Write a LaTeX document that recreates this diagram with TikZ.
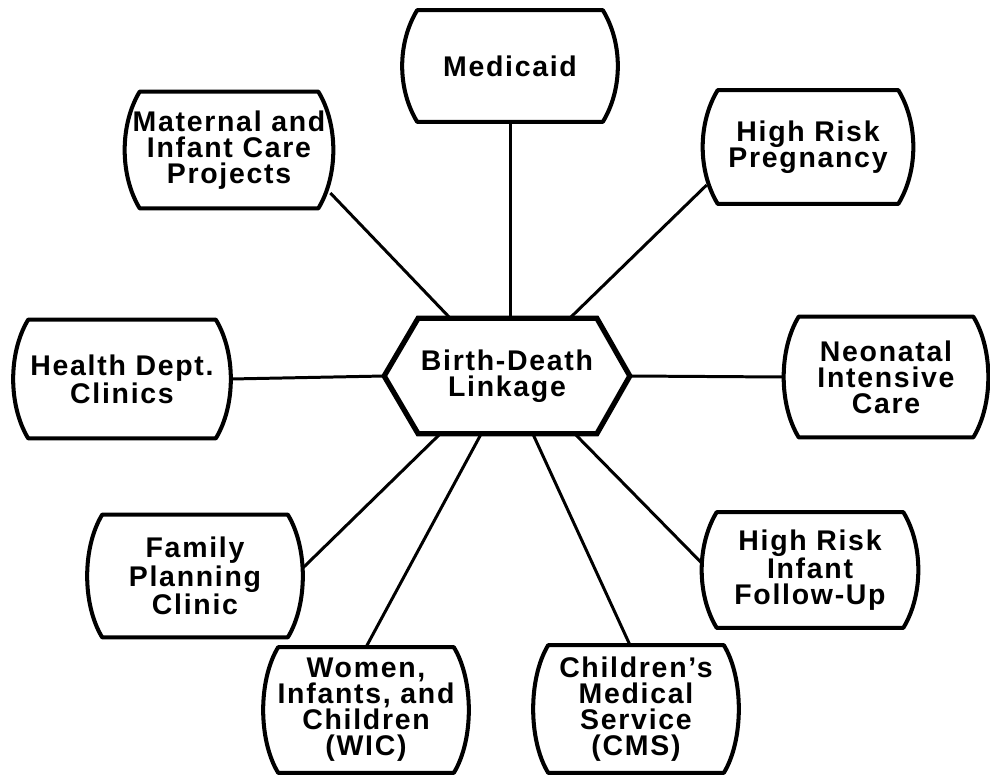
\documentclass[tikz,border=0pt]{standalone}
\usepackage{fontspec}
\setmainfont{Liberation Sans}[LetterSpace=6]
\usetikzlibrary{calc}
\tikzset{
  agency/.style={minimum width=4.2cm,minimum height=2.3cm,inner sep=0pt,align=center,font=\fontsize{16.2}{14.8}\selectfont\bfseries},
  boxline/.style={line width=2.3pt,line join=round},
  hubline/.style={line width=3pt,line join=miter},
  spoke/.style={line width=1.7pt}
}

\begin{document}
\begin{tikzpicture}[x=0.02cm,y=-0.02cm]
    \useasboundingbox (0,0) rectangle (990,774);

    \node[agency,minimum width=4.9cm,minimum height=2.3cm] (hub) at (507,376) {Birth-Death\\Linkage};

    \node[agency,minimum width=4.30cm,minimum height=2.22cm] (med) at (510,66) {Medicaid};
    \node[agency,minimum width=4.16cm,minimum height=2.32cm] (mat) at (229,150) {Maternal and\\Infant Care\\Projects};
    \node[agency,minimum width=4.20cm,minimum height=2.26cm] (hrp) at (808,147) {High Risk\\Pregnancy};
    \node[agency,minimum width=4.34cm,minimum height=2.36cm] (hdc) at (122,379) {Health Dept.\\Clinics};
    \node[agency,minimum width=4.08cm,minimum height=2.40cm] (nic) at (886,377) {Neonatal\\Intensive\\Care};
    \node[agency,minimum width=4.30cm,minimum height=2.44cm] (fpc) at (195,576) {Family\\Planning\\Clinic};
    \node[agency,minimum width=4.32cm,minimum height=2.30cm] (hri) at (810,570) {High Risk\\Infant\\Follow-Up};
    \node[agency,minimum width=4.10cm,minimum height=2.50cm] (wic) at (366,710) {Women,\\Infants, and\\Children\\(WIC)};
    \node[agency,minimum width=4.10cm,minimum height=2.54cm] (cms) at (636,709) {Children's\\Medical\\Service\\(CMS)};

    % outlines
    \draw[hubline] (hub.west) -- ($(hub.north west)+(34,0)$) -- ($(hub.north east)+(-33,0)$)
      -- (hub.east) -- ($(hub.south east)+(-33,0)$) -- ($(hub.south west)+(34,0)$) -- cycle;
    \foreach \n in {med,mat,hrp,hdc,nic,fpc,hri,wic,cms}
      \draw[boxline] ($(\n.north west)+(15,0)$) -- ($(\n.north east)+(-15,0)$)
        .. controls ($(\n.north east)+(5,33)$) and ($(\n.south east)+(5,-33)$) .. ($(\n.south east)+(-15,0)$)
        -- ($(\n.south west)+(15,0)$)
        .. controls ($(\n.south west)+(-5,-33)$) and ($(\n.north west)+(-5,33)$) .. cycle;

    % spokes
    \draw[spoke] (med.south) -- (med.south |- hub.north);
    \draw[spoke] ($(mat.east)+(-3,43)$) -- ($(hub.north west)+(66,0)$);
    \draw[spoke] ($(hrp.west)+(4,38)$) -- ($(hub.north east)+(-60,0)$);
    \draw[spoke] (hdc.east) -- (hub.west);
    \draw[spoke] (nic.west) -- (hub.east);
    \draw[spoke] ($(fpc.east)+(0,-8)$) -- ($(hub.south west)+(56,0)$);
    \draw[spoke] (wic.north) -- ($(hub.south west)+(97,0)$);
    \draw[spoke] ($(cms.north)+(-6,0)$) -- ($(hub.south east)+(-97,0)$);
    \draw[spoke] ($(hri.west)+(0,-7)$) -- ($(hub.south east)+(-55,0)$);
  \end{tikzpicture}
\end{document}
